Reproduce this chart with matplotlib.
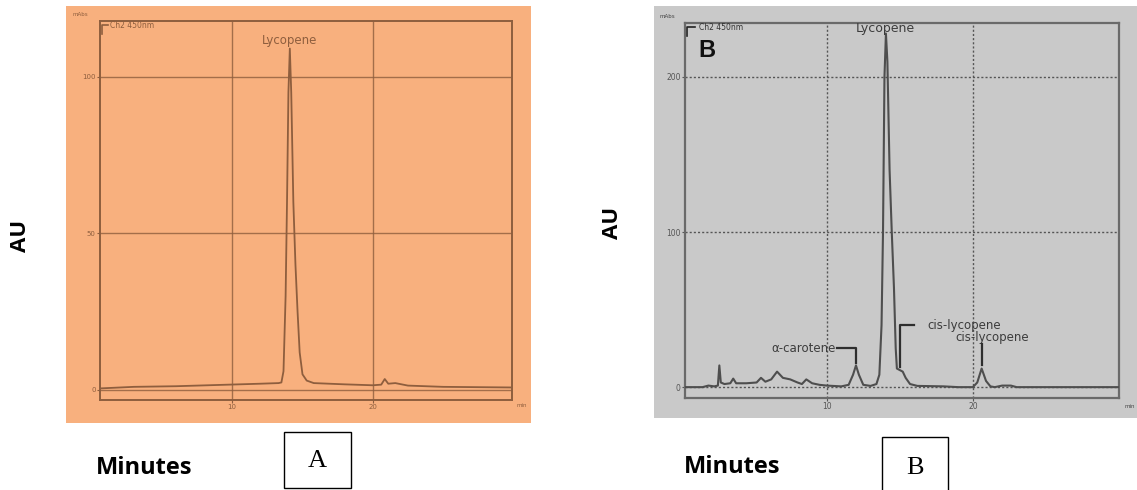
import numpy as np
import matplotlib
matplotlib.use('Agg')
import matplotlib.pyplot as plt
from matplotlib.patches import Rectangle
from matplotlib.lines import Line2D

W, H = 1137, 490

# --- chromatogram A (mAU vs minutes) ---
time_a = [0.6, 3.0, 6.0, 9.0, 12.0, 13.3, 13.5, 13.65, 13.8, 13.9, 14.0, 14.1,
          14.2, 14.35, 14.5, 14.65, 14.8, 15.0, 15.3, 15.8, 18.0, 20.0, 20.6,
          20.85, 21.1, 21.6, 22.5, 25.0, 29.9]
mau_a = [0.5, 1.0, 1.2, 1.6, 2.0, 2.2, 2.4, 6, 30, 60, 95, 109,
         95, 60, 40, 25, 12, 5, 3, 2.2, 1.8, 1.5, 1.7,
         3.5, 2.0, 2.2, 1.4, 1.0, 0.8]

# --- chromatogram B ---
time_b = [0.3, 1.5, 1.9, 2.3, 2.55, 2.65, 2.75, 3.0, 3.4, 3.6, 3.8, 4.5, 5.2,
          5.5, 5.8, 6.2, 6.6, 7.0, 7.5, 8.0, 8.3, 8.6, 9.0, 9.5, 10.0, 11.0,
          11.5, 11.8, 12.0, 12.2, 12.5, 13.0, 13.4, 13.6, 13.75, 13.85, 13.95,
          14.05, 14.15, 14.3, 14.45, 14.6, 14.72, 14.8, 15.2, 15.4, 15.7,
          16.2, 18.0, 19.0, 20.0, 20.3, 20.6, 20.9, 21.2, 21.5, 22.0, 22.6,
          23.0, 30.0]
mau_b = [0, 0, 1.0, 0.5, 1.0, 14, 3, 2, 2.5, 5.5, 2.5, 2.5, 3,
         6, 3.5, 5, 10, 6, 5, 3, 2, 5, 2.5, 1.5, 1.0, 0.5,
         1.5, 8, 14, 8, 1.5, 0.8, 2, 8, 40, 100, 200,
         228, 210, 140, 100, 64, 25, 12, 10, 6, 2,
         0.8, 0.5, 0, 0, 3, 12, 4, 0.5, 0, 1.0, 1.0,
         0, 0]

# peak labels: (name, retention time)
peaks_b = [('Lycopene', 14.05), ('α-carotene', 12.0),
           ('cis-lycopene', 15.0), ('cis-lycopene', 20.6)]

ORANGE = '#F8B07E'
BROWN = '#8E5E3E'
GREY_BG = '#C9C9C9'
GREY_LN = '#4E4E4E'


def px_axes(fig, x0, y0, x1, y1, **kw):
    return fig.add_axes([x0 / W, 1 - y1 / H, (x1 - x0) / W, (y1 - y0) / H], **kw)


def fig_rect(fig, x0, y0, x1, y1, **kw):
    fig.patches.append(Rectangle((x0 / W, 1 - y1 / H), (x1 - x0) / W, (y1 - y0) / H,
                                 transform=fig.transFigure, figure=fig, **kw))


fig = plt.figure(figsize=(W / 100, H / 100), dpi=100)
fig.patch.set_facecolor('white')

# ---------------- panel A ----------------
fig_rect(fig, 66, 6, 531, 423, facecolor=ORANGE, edgecolor='none', zorder=-5)
axA = px_axes(fig, 100, 21, 512, 400)
axA.set_facecolor(ORANGE)
axA.set_xlim(0.6, 29.9)
axA.set_ylim(-3.2, 117.8)
for v in [10, 20]:
    axA.axvline(v, color=BROWN, lw=1.0, alpha=0.8, zorder=1)
for v in [0, 50, 100]:
    axA.axhline(v, color=BROWN, lw=1.0, alpha=0.8, zorder=1)
axA.plot(time_a, mau_a, color=BROWN, lw=1.3, zorder=3)
for sp in axA.spines.values():
    sp.set_color(BROWN)
    sp.set_linewidth(1.4)
axA.set_xticks([10, 20])
axA.set_xticklabels(['10', '20'])
axA.set_yticks([0, 50, 100])
axA.set_yticklabels(['0', '50', '100'])
axA.tick_params(labelsize=5, colors=BROWN, length=2, pad=1)
axA.text(14.1, 111.5, 'Lycopene', ha='center', va='center', fontsize=8.5,
         color=BROWN, family='DejaVu Sans')
axA.text(0.025, 0.988, 'Ch2 450nm', transform=axA.transAxes, fontsize=5.5,
         color=BROWN, va='center', family='DejaVu Sans')
axA.add_line(Line2D([0.006, 0.006, 0.02], [0.965, 0.99, 0.99],
                    transform=axA.transAxes, color=BROWN, lw=1.2))
fig.text(80 / W, 1 - 15 / H, 'mAbs', fontsize=4, color=BROWN,
         ha='center', va='center')
fig.text(522 / W, 1 - 405 / H, 'min', fontsize=4, color=BROWN,
         ha='center', va='center')

# ---------------- panel B ----------------
fig_rect(fig, 654, 6, 1137, 418, facecolor=GREY_BG, edgecolor='none', zorder=-5)
axB = px_axes(fig, 685, 23, 1119, 398)
axB.set_facecolor(GREY_BG)
axB.set_xlim(0.3, 30.0)
axB.set_ylim(-7, 234.8)
for v in [10, 20]:
    axB.axvline(v, color='#555555', lw=1.0, ls=(0, (1.5, 1.5)), zorder=1)
for v in [0, 100, 200]:
    axB.axhline(v, color='#555555', lw=1.0, ls=(0, (1.5, 1.5)), zorder=1)
axB.plot(time_b, mau_b, color=GREY_LN, lw=1.5, zorder=3)
for sp in axB.spines.values():
    sp.set_color('#6A6A6A')
    sp.set_linewidth(1.6)
axB.set_xticks([10, 20])
axB.set_xticklabels(['10', '20'])
axB.set_yticks([0, 100, 200])
axB.set_yticklabels(['0', '100', '200'])
axB.tick_params(labelsize=5.5, colors='#555555', length=2, pad=1)

lab_font = dict(family='DejaVu Sans', color='#3C3C3C')
name, rt = peaks_b[0]
axB.text(rt - 0.05, 231, name, ha='center', va='center', fontsize=9, **lab_font)

name, rt = peaks_b[1]
axB.text(rt - 1.4, 25, name, ha='right', va='center', fontsize=8.5, **lab_font)
axB.plot([rt - 1.3, rt, rt], [25, 25, 15.5], color='#2E2E2E', lw=1.6, zorder=4)

name, rt = peaks_b[2]
axB.plot([rt + 1.0, rt, rt], [40, 40, 13], color='#2E2E2E', lw=1.6, zorder=4)
axB.text(rt + 1.9, 40, name, ha='left', va='center', fontsize=8.5, **lab_font)

name, rt = peaks_b[3]
axB.text(rt - 1.8, 32, name, ha='left', va='center', fontsize=8.5, **lab_font)
axB.plot([rt, rt], [28, 14], color='#2E2E2E', lw=1.6, zorder=4)

axB.text(0.033, 0.987, 'Ch2 450nm', transform=axB.transAxes, fontsize=5.5,
         color='#333333', va='center', family='DejaVu Sans')
axB.add_line(Line2D([0.004, 0.004, 0.022], [0.965, 0.99, 0.99],
                    transform=axB.transAxes, color='#222222', lw=1.2))
axB.text(0.05, 0.928, 'B', transform=axB.transAxes, fontsize=17,
         fontweight='bold', ha='center', va='center', color='#111111',
         family='Liberation Sans')
fig.text(667 / W, 1 - 17 / H, 'mAbs', fontsize=4, color='#444444',
         ha='center', va='center')
fig.text(1130 / W, 1 - 406 / H, 'min', fontsize=4, color='#444444',
         ha='center', va='center')

# ---------------- outer labels ----------------
out_font = dict(family='Open Sans', fontweight='bold', color='black')
fig.text(20 / W, 1 - 236 / H, 'AU', rotation=90, fontsize=16,
         ha='center', va='center', **out_font)
fig.text(612 / W, 1 - 223 / H, 'AU', rotation=90, fontsize=16,
         ha='center', va='center', **out_font)
fig.text(144 / W, 1 - 468 / H, 'Minutes', fontsize=17,
         ha='center', va='center', **out_font)
fig.text(732 / W, 1 - 467 / H, 'Minutes', fontsize=17,
         ha='center', va='center', **out_font)

fig_rect(fig, 284, 432, 351, 488, facecolor='white', edgecolor='black', lw=1.0)
fig.text(317.5 / W, 1 - 461 / H, 'A', fontsize=19, family='Liberation Serif',
         ha='center', va='center')
fig_rect(fig, 882, 437, 948, 495, facecolor='white', edgecolor='black', lw=1.0)
fig.text(915 / W, 1 - 468 / H, 'B', fontsize=19, family='Liberation Serif',
         ha='center', va='center')

fig.savefig('out.png', dpi=100, facecolor=fig.get_facecolor())
